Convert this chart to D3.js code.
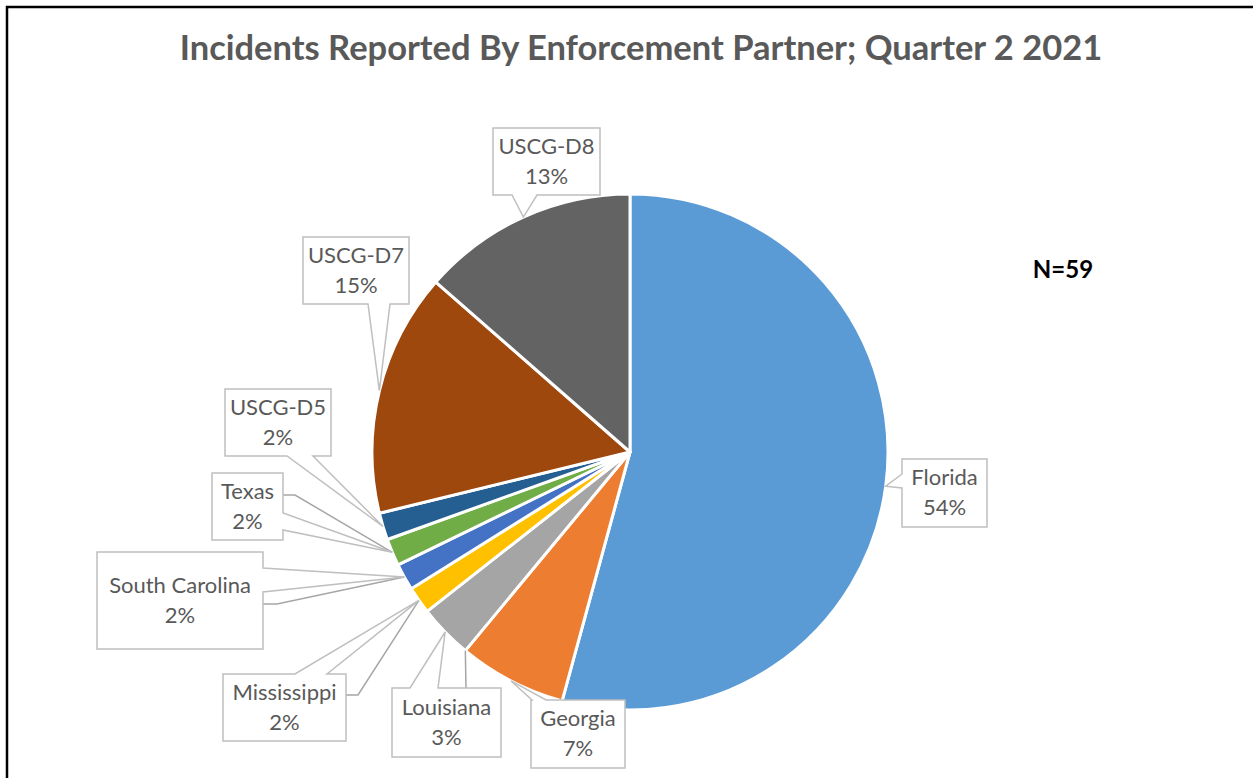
<!DOCTYPE html>
<html>
<head>
<meta charset="utf-8">
<script src="https://cdn.jsdelivr.net/npm/d3@7"></script>
<style>
  html, body { margin: 0; padding: 0; background: #fff; }
</style>
</head>
<body>
<div id="chart"></div>
<script>
const categories = ["Florida", "Georgia", "Louisiana", "Mississippi", "South Carolina", "Texas", "USCG-D5", "USCG-D7", "USCG-D8"];
const counts = [32, 4, 2, 1, 1, 1, 1, 9, 8];
const percentLabels = ["54%", "7%", "3%", "2%", "2%", "2%", "2%", "15%", "13%"];
const sampleSize = 59;
const title = "Incidents Reported By Enforcement Partner; Quarter 2 2021";

const colors = ["#5B9BD5", "#ED7D31", "#A5A5A5", "#FFC000", "#4472C4", "#70AD47", "#255E91", "#9E480E", "#636363"];

// callout boxes (layout only): box, side of the wedge, wedge base, optional leader line
const callouts = [
  { x: 902, y: 459, w: 85,  h: 68, side: "left",   base: [474, 488] },
  { x: 531, y: 700, w: 94,  h: 68, side: "top",    base: [532, 546] },
  { x: 392, y: 688, w: 109, h: 69, side: "top",    base: [410, 438], leader: { from: [466, 688], jog: null, at: 0 } },
  { x: 223, y: 674, w: 123, h: 67, side: "top",    base: [295, 327], leader: { from: [346, 695], jog: [358, 695], at: 0.5 } },
  { x: 97,  y: 552, w: 166, h: 97, side: "right",  base: [568, 592], leader: { from: [263, 604], jog: [277, 604], at: 0.5 } },
  { x: 212, y: 473, w: 71,  h: 67, side: "right",  base: [513, 530], leader: { from: [283, 495], jog: [295, 495], at: 0.5 } },
  { x: 225, y: 389, w: 106, h: 67, side: "bottom", base: [287, 313] },
  { x: 303, y: 237, w: 106, h: 67, side: "bottom", base: [368, 390] },
  { x: 493, y: 128, w: 107, h: 67, side: "bottom", base: [512, 537] }
];

const width = 1253, height = 778;
const cx = 630, cy = 452, radius = 258;

const svg = d3.select("#chart")
  .append("svg")
  .attr("width", width)
  .attr("height", height)
  .style("display", "block");

// frame
svg.append("path")
  .attr("d", `M7,${height + 5} L7,7 L${width + 5},7`)
  .attr("fill", "none")
  .attr("stroke", "#000")
  .attr("stroke-width", 2.5);

svg.append("text")
  .text(title)
  .attr("x", 641)
  .attr("y", 60)
  .attr("text-anchor", "middle")
  .attr("font-family", "Lato")
  .attr("font-weight", 700)
  .attr("font-size", 34.5)
  .attr("fill", "#595959");

svg.append("text")
  .text("N=" + sampleSize)
  .attr("x", 1063)
  .attr("y", 278)
  .attr("text-anchor", "middle")
  .attr("font-family", "Lato")
  .attr("font-weight", 700)
  .attr("font-size", 24)
  .attr("fill", "#000");

const pie = d3.pie().sort(null).value(d => d);
const arcs = pie(counts);

const arcGen = d3.arc().innerRadius(0).outerRadius(radius);

const chart = svg.append("g")
  .attr("transform", `translate(${cx},${cy})`);

chart.selectAll("path.slice")
  .data(arcs)
  .join("path")
  .attr("class", "slice")
  .attr("d", arcGen)
  .attr("fill", (d, i) => colors[i])
  .attr("stroke", "#fff")
  .attr("stroke-width", 3)
  .attr("stroke-linejoin", "round");

// point on the rim of a slice, t = 0 start, 0.5 middle
function rimPoint(d, t) {
  const a = d.startAngle + (d.endAngle - d.startAngle) * t;
  return [cx + radius * Math.sin(a), cy - radius * Math.cos(a)];
}

function calloutPath(c, tip) {
  const p = d3.path();
  const x0 = c.x, y0 = c.y, x1 = c.x + c.w, y1 = c.y + c.h;
  const [b0, b1] = c.base;
  p.moveTo(x0, y0);
  if (c.side === "top") {
    p.lineTo(b0, y0); p.lineTo(tip[0], tip[1]); p.lineTo(b1, y0);
  }
  p.lineTo(x1, y0);
  if (c.side === "right") {
    p.lineTo(x1, b0); p.lineTo(tip[0], tip[1]); p.lineTo(x1, b1);
  }
  p.lineTo(x1, y1);
  if (c.side === "bottom") {
    p.lineTo(b1, y1); p.lineTo(tip[0], tip[1]); p.lineTo(b0, y1);
  }
  p.lineTo(x0, y1);
  if (c.side === "left") {
    p.lineTo(x0, b1); p.lineTo(tip[0], tip[1]); p.lineTo(x0, b0);
  }
  p.closePath();
  return p.toString();
}

const labels = svg.append("g");

// leader lines
arcs.forEach((d, i) => {
  const c = callouts[i];
  if (!c.leader) return;
  const end = rimPoint(d, c.leader.at);
  const pts = [c.leader.from];
  if (c.leader.jog) pts.push(c.leader.jog);
  pts.push(end);
  labels.append("path")
    .attr("d", d3.line()(pts))
    .attr("fill", "none")
    .attr("stroke", "#a6a6a6")
    .attr("stroke-width", 1.5);
});

arcs.forEach((d, i) => {
  const c = callouts[i];
  const tip = rimPoint(d, 0.5);
  labels.append("path")
    .attr("d", calloutPath(c, tip))
    .attr("fill", "#fff")
    .attr("stroke", "#bfbfbf")
    .attr("stroke-width", 1.5);

  const mx = c.x + c.w / 2, my = c.y + c.h / 2;
  const t = labels.append("text")
    .attr("text-anchor", "middle")
    .attr("font-family", "Lato")
    .attr("font-size", 22)
    .attr("fill", "#595959");
  t.append("tspan").attr("x", mx).attr("y", my - 8).text(categories[i]);
  t.append("tspan").attr("x", mx).attr("y", my + 22).text(percentLabels[i]);
});
</script>
</body>
</html>
